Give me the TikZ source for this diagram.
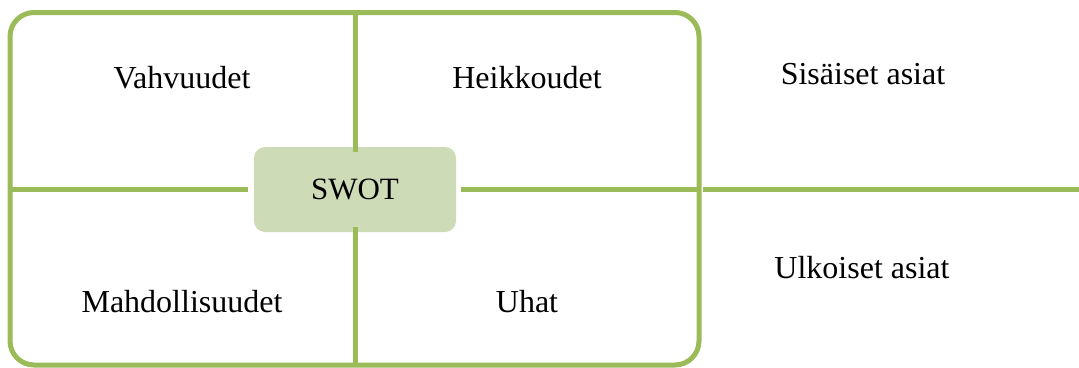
\documentclass[tikz,border=0pt]{standalone}
\usepackage{fontspec}
\setmainfont{Liberation Serif}
\definecolor{olive}{HTML}{9BBB59}
\definecolor{swotfill}{HTML}{CDDBB6}
\begin{document}
\begin{tikzpicture}[x=1pt,y=-1pt,
  frameline/.style={draw=olive,line width=5pt},
  divider/.style={draw=olive,line width=5pt},
  label/.style={font=\fontsize{32}{36}\selectfont,inner sep=0pt,anchor=center},
  centerbox/.style={fill=swotfill,rounded corners=11pt,minimum width=202pt,minimum height=85pt,inner sep=0pt,font=\fontsize{31}{34}\selectfont}]
  \useasboundingbox (0,0) rectangle (1079,367);

  % outer rounded frame
  \draw[frameline,rounded corners=24pt] (10,12.5) rectangle (699,365);

  % centre box
  \node[centerbox] (swot) at (355,189.5) {SWOT};

  % divider end points
  \coordinate (topmid) at (355,12.5);
  \coordinate (botmid) at (355,365);
  \coordinate (leftmid) at (10,189.5);
  \coordinate (rightmid) at (699,189.5);
  \coordinate (farright) at (1079,189);
  \coordinate (rightstart) at (703,189);

  \draw[divider] (topmid) -- ([yshift=-5pt]swot.north);
  \draw[divider] ([yshift=5pt]swot.south) -- (botmid);
  \draw[divider] (leftmid) -- ([xshift=-6pt]swot.west);
  \draw[divider] ([xshift=5pt]swot.east) -- (rightmid);
  \draw[divider] (rightstart) -- (farright);

  % quadrant labels
  \node[label] (s) at (182,78) {Vahvuudet};
  \node[label] (w) at (527,78) {Heikkoudet};
  \node[label] (o) at (182,302) {Mahdollisuudet};
  \node[label] (t) at (527,302) {Uhat};

  % side labels
  \node[label] (internal) at (863,74) {Sisäiset asiat};
  \node[label] (external) at (862,268) {Ulkoiset asiat};
\end{tikzpicture}
\end{document}
